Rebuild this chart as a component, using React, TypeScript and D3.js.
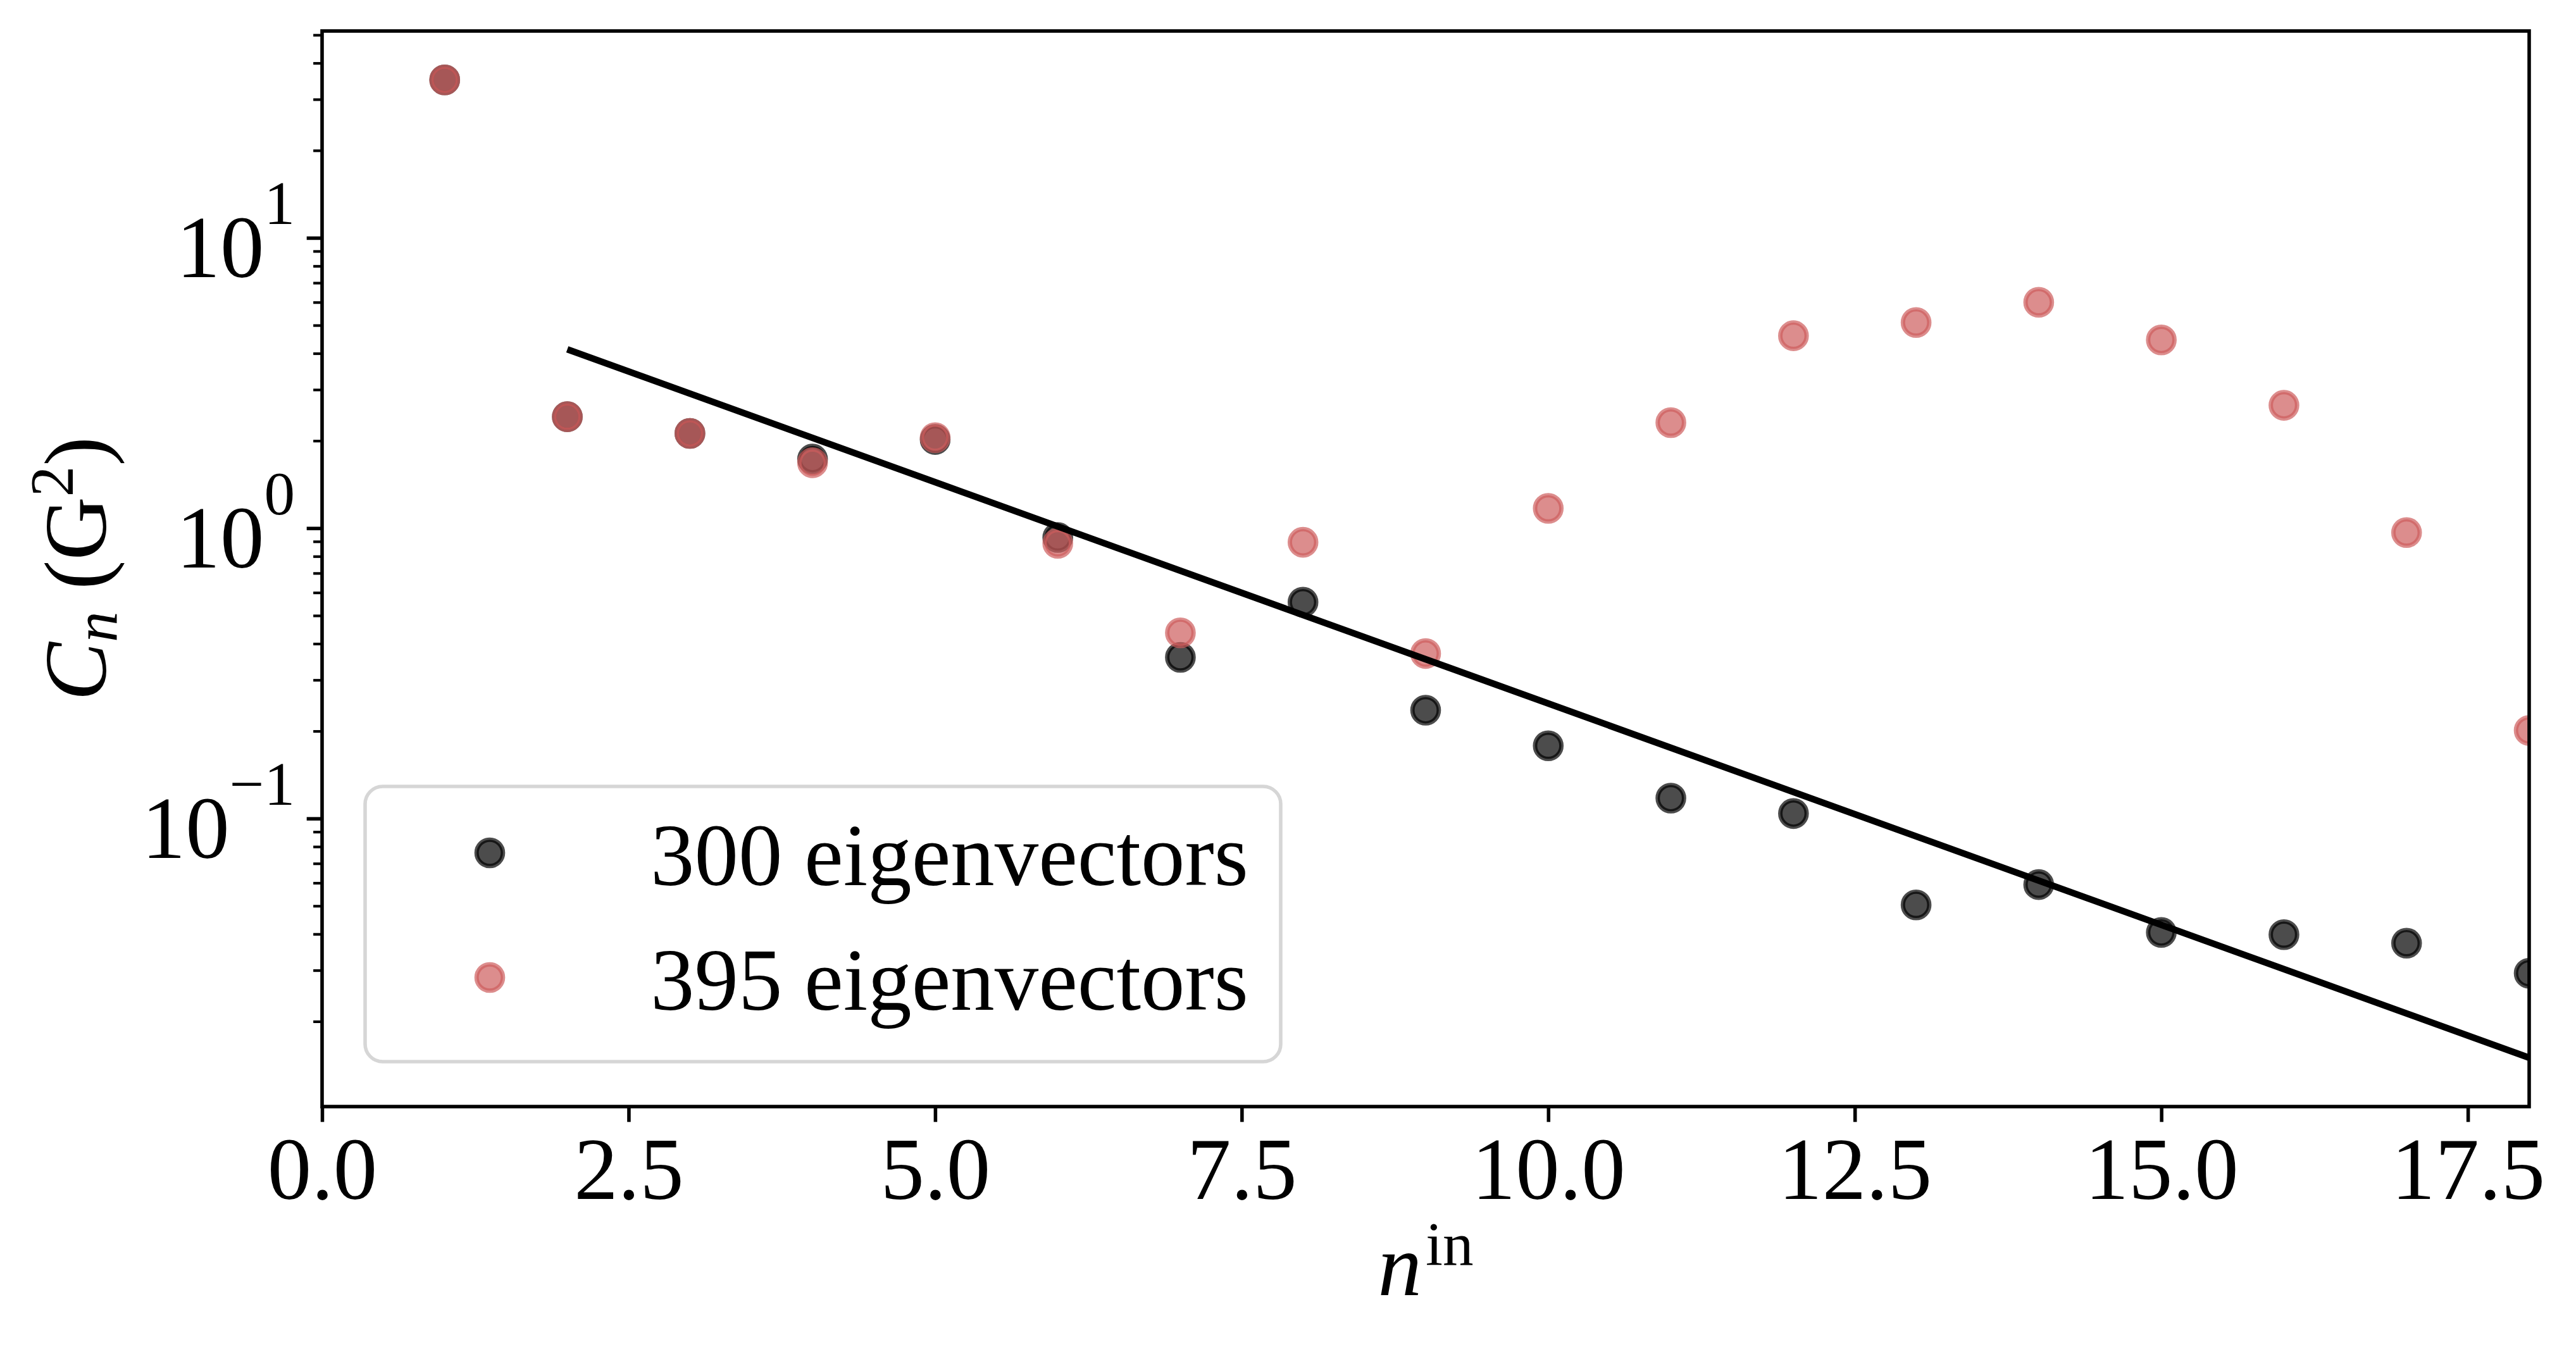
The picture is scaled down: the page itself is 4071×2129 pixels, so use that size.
import * as d3 from 'd3'
import {useRef, useEffect} from 'react'

// n values and the two sets of coefficients
const nValues: number[] = [1, 2, 3, 4, 5, 6, 7, 8, 9, 10, 11, 12, 13, 14, 15, 16, 17, 18]
const c300: number[] = [35.0, 2.42, 2.12, 1.73, 2.02, 0.929, 0.359, 0.556, 0.236, 0.178, 0.1175, 0.104, 0.0504, 0.0592, 0.0405, 0.0398, 0.0372, 0.0293]
const c395: number[] = [35.0, 2.42, 2.12, 1.68, 2.05, 0.887, 0.436, 0.894, 0.370, 1.17, 2.31, 4.60, 5.11, 6.00, 4.45, 2.65, 0.966, 0.201]

// exponential fit, straight on the log axis: its two end points
const fitN: number[] = [2, 18]
const fitC: number[] = [4.13, 0.0150]

const xTicks: number[] = [0, 2.5, 5, 7.5, 10, 12.5, 15, 17.5]
const yMajor: number[] = [0.1, 1, 10]
const yExponents: string[] = ['\u22121', '0', '1']
const legendLabels: string[] = ['300 eigenvectors', '395 eigenvectors']
const seriesColors: string[] = ['#000000', '#cd5c5c']

const svgWidth = 4071
const svgHeight = 2129
const margin = {left: 509, right: 4071 - 3997, top: 49, bottom: 2129 - 1749}
const pt = 500 / 72
const font = '"Liberation Serif", "Times New Roman", serif'
const fs = 20 * pt
const fsSmall = 14 * pt

const Chart = () => {
  const svgRef = useRef<SVGSVGElement>(null)

  const draw = (): void => {
    const SVG = d3.select(svgRef.current)
    SVG.selectAll('*').remove()
    SVG.attr('width', svgWidth).attr('height', svgHeight)

    const x0 = margin.left
    const x1 = svgWidth - margin.right
    const y0 = margin.top
    const y1 = svgHeight - margin.bottom

    // matplotlib style autoscale: 5% margins in log space
    const all = [...c300, ...c395, ...fitC]
    const lo = Math.log10(d3.min(all)!)
    const hi = Math.log10(d3.max(all)!)
    const pad = (hi - lo) * 0.05

    const xScale = d3.scaleLinear().domain([0, 18]).range([x0, x1])
    const yScale = d3.scaleLog()
      .domain([Math.pow(10, lo - pad), Math.pow(10, hi + pad)])
      .range([y1, y0])

    SVG.append('rect').attr('width', svgWidth).attr('height', svgHeight).attr('fill', 'white')

    SVG.append('clipPath').attr('id', 'plotClip')
      .append('rect')
      .attr('x', x0).attr('y', y0)
      .attr('width', x1 - x0).attr('height', y1 - y0)

    const plot = SVG.append('g').attr('clip-path', 'url(#plotClip)')

    const series = [c300, c395]
    series.forEach((vals, si) => {
      plot.append('g')
        .selectAll('circle')
        .data(vals)
        .enter()
        .append('circle')
        .attr('cx', (d, i) => xScale(nValues[i]))
        .attr('cy', d => yScale(d))
        .attr('r', 3 * pt)
        .attr('fill', seriesColors[si])
        .attr('fill-opacity', 0.7)
        .attr('stroke', seriesColors[si])
        .attr('stroke-opacity', 0.7)
        .attr('stroke-width', 1 * pt)
    })

    const line = d3.line<number>()
      .x((d, i) => xScale(fitN[i]))
      .y(d => yScale(d))
    plot.append('path')
      .attr('d', line(fitC))
      .attr('fill', 'none')
      .attr('stroke', 'black')
      .attr('stroke-width', 1.5 * pt)

    // x axis
    const xAxis = d3.axisBottom(xScale)
      .tickValues(xTicks)
      .tickFormat(d3.format('.1f'))
      .tickSize(3.5 * pt)
      .tickPadding(3.3 * pt)
    const gx = SVG.append('g')
      .attr('transform', `translate(0,${y1})`)
      .call(xAxis)
    gx.select('.domain').remove()
    gx.selectAll('line').attr('stroke-width', 0.8 * pt)
    gx.selectAll('text').attr('font-size', fs).attr('font-family', font).attr('fill', 'black')

    // y axis: minor then major ticks
    const minor: number[] = []
    for (let e = -3; e <= 2; e++) {
      for (let m = 2; m <= 9; m++) {
        const v = m * Math.pow(10, e)
        if (v >= yScale.domain()[0] && v <= yScale.domain()[1]) minor.push(v)
      }
    }
    const gyMinor = SVG.append('g')
      .attr('transform', `translate(${x0},0)`)
      .call(d3.axisLeft(yScale).tickValues(minor).tickSize(2 * pt).tickFormat(() => ''))
    gyMinor.select('.domain').remove()
    gyMinor.selectAll('line').attr('stroke-width', 0.6 * pt)

    const gyMajor = SVG.append('g')
      .attr('transform', `translate(${x0},0)`)
      .call(d3.axisLeft(yScale).tickValues(yMajor).tickSize(3.5 * pt).tickFormat(() => ''))
    gyMajor.select('.domain').remove()
    gyMajor.selectAll('line').attr('stroke-width', 0.8 * pt)

    const yLabels = SVG.append('g')
      .attr('font-family', font)
      .attr('fill', 'black')
      .selectAll('text')
      .data(yMajor)
      .enter()
      .append('text')
      .attr('x', x0 - 43)
      .attr('y', d => yScale(d) + 62)
      .attr('text-anchor', 'end')
      .attr('font-size', fs)
    yLabels.append('tspan').text('10')
    yLabels.append('tspan')
      .attr('font-size', fsSmall)
      .attr('dy', -84)
      .text((d, i) => yExponents[i])

    // spines
    SVG.append('rect')
      .attr('x', x0).attr('y', y0)
      .attr('width', x1 - x0).attr('height', y1 - y0)
      .attr('fill', 'none')
      .attr('stroke', 'black')
      .attr('stroke-width', 0.8 * pt)

    // axis labels
    const xl = SVG.append('text')
      .attr('x', (x0 + x1) / 2)
      .attr('y', 2047)
      .attr('text-anchor', 'middle')
      .attr('font-family', font)
      .attr('font-size', fs)
    xl.append('tspan').attr('font-style', 'italic').text('n')
    xl.append('tspan').attr('font-size', fsSmall).attr('dx', 6).attr('dy', -48).text('in')

    const yl = SVG.append('text')
      .attr('transform', `translate(167,${(y0 + y1) / 2}) rotate(-90)`)
      .attr('text-anchor', 'middle')
      .attr('font-family', font)
      .attr('font-size', fs)
    yl.append('tspan').attr('font-style', 'italic').text('C')
    yl.append('tspan').attr('font-style', 'italic').attr('font-size', fsSmall).attr('dy', 17).text('n')
    yl.append('tspan').attr('dy', -17).text('\u00a0(G')
    yl.append('tspan').attr('font-size', fsSmall).attr('dy', -52).text('2')
    yl.append('tspan').attr('dy', 52).text(')')

    // legend
    const leg = SVG.append('g')
    leg.append('rect')
      .attr('x', 577).attr('y', 1243)
      .attr('width', 2024 - 577).attr('height', 1678 - 1243)
      .attr('rx', 0.2 * fs)
      .attr('fill', 'white').attr('fill-opacity', 0.8)
      .attr('stroke', '#cccccc').attr('stroke-opacity', 0.8)
      .attr('stroke-width', 0.8 * pt)
    const rowY = [1348, 1545]
    legendLabels.forEach((lab, i) => {
      leg.append('circle')
        .attr('cx', 774).attr('cy', rowY[i])
        .attr('r', 3 * pt)
        .attr('fill', seriesColors[i]).attr('fill-opacity', 0.7)
        .attr('stroke', seriesColors[i]).attr('stroke-opacity', 0.7)
        .attr('stroke-width', 1 * pt)
      leg.append('text')
        .attr('x', 1028).attr('y', rowY[i] + 51)
        .attr('font-family', font)
        .attr('font-size', fs)
        .text(lab)
    })
  }

  useEffect((): void => draw(), [])

  return <svg ref={svgRef} style={{position: 'absolute', left: 0, top: 0, display: 'block'}}></svg>
}

export default function App() {
  return <Chart />
}
